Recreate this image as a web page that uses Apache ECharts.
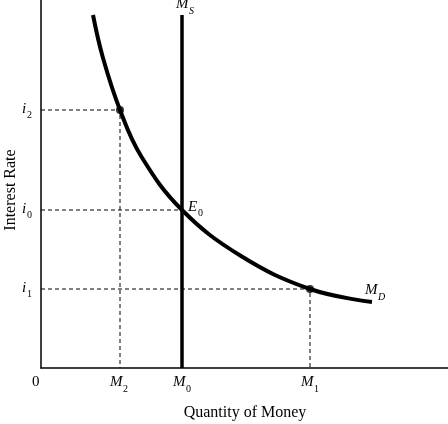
<!DOCTYPE html>
<html><head><meta charset="utf-8">
<script src="https://cdn.jsdelivr.net/npm/echarts@6/dist/echarts.min.js"></script>
<style>html,body{margin:0;background:#fff}#c{width:448px;height:424px}</style>
</head><body><div id="c"></div>
<script>
// demand curve points (x = quantity, y = interest rate)
var demandX = [52, 62, 79, 100, 141, 200, 269, 331];
var demandY = [353, 310, 258, 212, 158, 112, 79, 66];
var supplyX = 141;
var supplyTop = 353;
var levelsI = [258, 158, 79];      // i2, i0, i1
var levelsM = [79, 141, 269];      // M2, M0, M1
var dotIdx = [2, 6];

var demand = demandX.map(function (x, i) { return [x, demandY[i]]; });
var dash = { type: [4, 3], color: '#000', width: 1 };
var dashSeries = [];
for (var k = 0; k < 3; k++) {
    dashSeries.push({ type: 'line', symbol: 'none', lineStyle: dash, silent: true,
        data: [[0, levelsI[k]], [levelsM[k], levelsI[k]], [levelsM[k], 0]] });
}
var serif = 'Liberation Serif';
function t(x, y, txt, style) {
    return { type: 'text', x: x, y: y, style: Object.assign({ text: txt, font: 'italic 15px ' + serif, fill: '#000' }, style || {}) };
}
var chart = echarts.init(document.getElementById('c'));
chart.setOption({
    animation: false,
    grid: { left: 41, right: 0, top: 0, bottom: 56 },
    xAxis: { type: 'value', min: 0, max: 407, axisLabel: { show: false }, splitLine: { show: false }, axisTick: { show: false },
        axisLine: { lineStyle: { color: '#000', width: 1.5 } } },
    yAxis: { type: 'value', min: 0, max: 368, axisLabel: { show: false }, splitLine: { show: false }, axisTick: { show: false },
        axisLine: { lineStyle: { color: '#000', width: 1.5 } } },
    series: dashSeries.concat([
        { type: 'line', symbol: 'none', lineStyle: { color: '#000', width: 3.5 }, data: [[supplyX, 0], [supplyX, supplyTop]] },
        { type: 'line', smooth: 0.4, symbol: 'none', lineStyle: { color: '#000', width: 4 }, data: demand },
        { type: 'scatter', symbolSize: 8, itemStyle: { color: '#000' }, data: dotIdx.map(function (i) { return demand[i]; }) }
    ]),
    graphic: [
        t(176, -3, 'M', {}), t(189, 6, 'S', { font: 'italic 10px ' + serif }),
        t(22, 102, 'i'), t(27, 110, '2', { font: '10px ' + serif }),
        t(22, 202, 'i'), t(27, 210, '0', { font: '10px ' + serif }),
        t(22, 281, 'i'), t(27, 289, '1', { font: '10px ' + serif }),
        t(188, 200, 'E'), t(198, 208, '0', { font: '10px ' + serif }),
        t(365, 283, 'M'), t(378, 292, 'D', { font: 'italic 10px ' + serif }),
        t(32, 375, '0', { font: '15px ' + serif }),
        t(110, 375, 'M'), t(123, 384, '2', { font: '10px ' + serif }),
        t(173, 375, 'M'), t(186, 384, '0', { font: '10px ' + serif }),
        t(301, 375, 'M'), t(314, 384, '1', { font: '10px ' + serif }),
        t(245, 405, 'Quantity of Money', { font: '16px ' + serif, align: 'center' }),
        { type: 'text', x: 3, y: 190, rotation: Math.PI / 2,
          style: { text: 'Interest Rate', font: '16px ' + serif, fill: '#000', align: 'center', verticalAlign: 'top' } }
    ]
});
</script></body></html>
